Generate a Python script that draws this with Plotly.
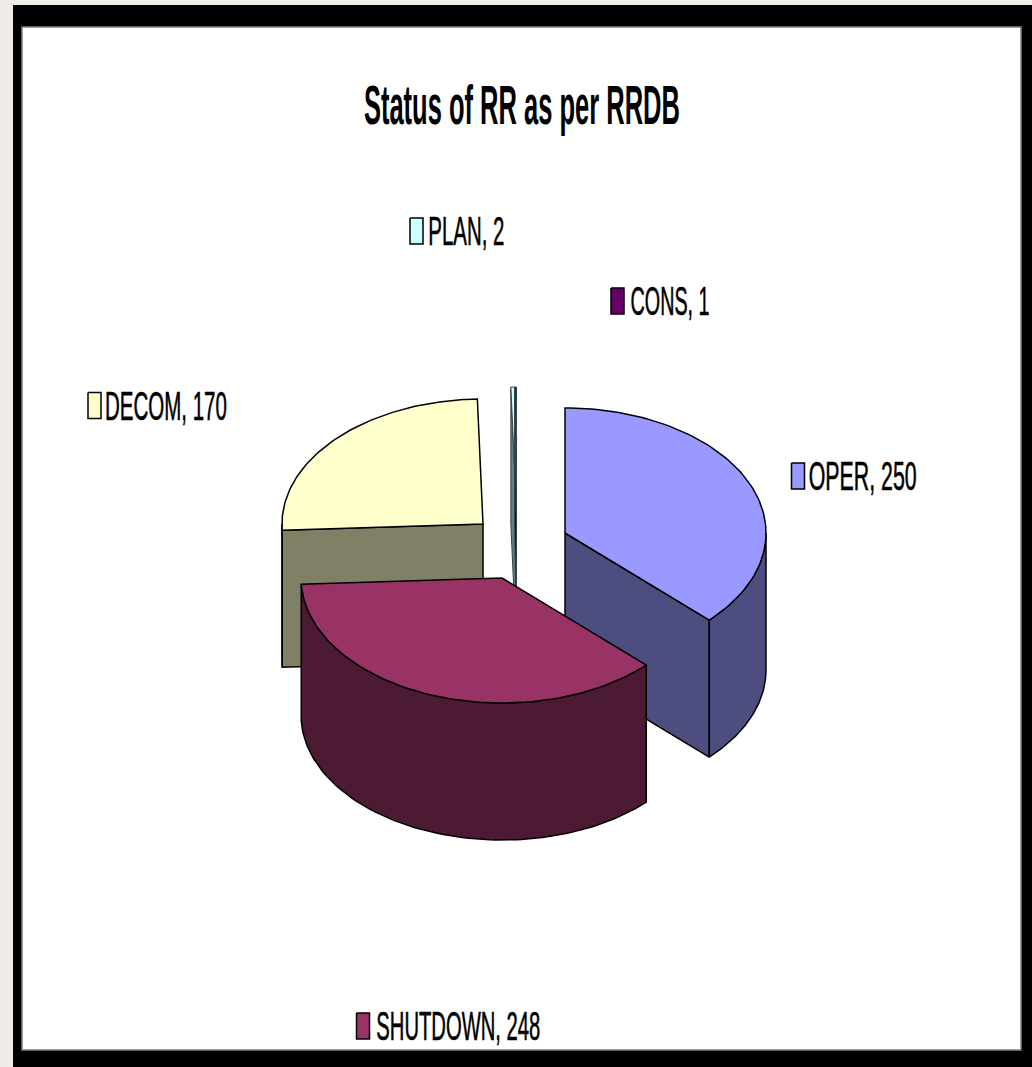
import json
import numpy as np
import plotly.graph_objects as go

# ---- data (clockwise from 12 o'clock) ----
categories = ["OPER", "SHUTDOWN", "DECOM", "PLAN", "CONS"]
values = [250, 248, 170, 2, 1]
chart_title = "Status of RR as per RRDB"

# ---- styles and layout ----
top_colors = ["#9999FF", "#993366", "#FFFFCC", "#CCFFFF", "#660066"]
side_colors = ["#4D4D80", "#4D1A33", "#808066", "#668080", "#330033"]
apexes = {"OPER": (565, 533), "SHUTDOWN": (502, 578), "DECOM": (483, 524),
          "PLAN": (516.5, 512), "CONS": (516.5, 512)}
# key centre (x, y) and the horizontal span of the squeezed label text
key_centres = {"OPER": (798, 476), "SHUTDOWN": (363, 1026), "DECOM": (94.5, 405.5),
               "PLAN": (416.5, 231), "CONS": (617.5, 301)}
text_spans = {"OPER": (808, 916), "SHUTDOWN": (376, 540), "DECOM": (105, 227),
              "PLAN": (428, 504), "CONS": (630, 709)}
title_span = (364, 680)
RX, RY, DEPTH = 201, 125, 137
W, H = 1032, 1067
FONT = "Liberation Sans, Arial, sans-serif"

fig = go.Figure()


def poly(xs, ys, fill, lw=1.5, lc="#000000"):
    fig.add_trace(go.Scatter(
        x=list(xs), y=list(ys), mode="lines", fill="toself", fillcolor=fill,
        line=dict(color=lc, width=lw), hoverinfo="skip", showlegend=False))


def pt(c, deg, dy=0):
    r = np.radians(deg)
    return c[0] + RX * np.sin(r), c[1] - RY * np.cos(r) + dy


fractions = np.array(values, dtype=float) / sum(values) * 360
ends = np.cumsum(fractions)
starts = ends - fractions
wedges = {n: (s, e, i) for i, (n, s, e) in enumerate(zip(categories, starts, ends))}


def draw(name):
    s, e, i = wedges[name]
    c = apexes[name]
    t = np.linspace(s, e, 90)
    ax, ay = pt(c, t)
    top, side = top_colors[i], side_colors[i]
    sliver = (e - s) < 3
    lw = 1.0 if sliver else 1.5
    lc = "#334444" if sliver else "#000000"
    # radial face at the start angle (visible for wedges on the left half)
    if 180 < s < 360:
        x0, y0 = pt(c, s)
        poly([x0, c[0], c[0], x0, x0], [y0, c[1], c[1] + DEPTH, y0 + DEPTH, y0], side, lw, lc)
    # radial face at the end angle (visible for wedges on the right half)
    if 0 < e < 180:
        x1, y1 = pt(c, e)
        poly([c[0], x1, x1, c[0], c[0]], [c[1], y1, y1 + DEPTH, c[1] + DEPTH, c[1]], side, lw, lc)
    # outer rim, only where it faces the viewer (90..270 degrees)
    lo, hi = max(s, 90), min(e, 270)
    if hi > lo:
        tr = np.linspace(lo, hi, 90)
        rx, ry = pt(c, tr)
        poly(np.r_[rx, rx[::-1], rx[0]], np.r_[ry, ry[::-1] + DEPTH, ry[0]], side, lw, lc)
    # top surface
    poly(np.r_[c[0], ax, c[0]], np.r_[c[1], ay, c[1]], top, lw, lc)


for name in ["DECOM", "PLAN", "CONS", "OPER", "SHUTDOWN"]:
    draw(name)

# data labels with their colour keys
squeeze = {}
for i, name in enumerate(categories):
    kx, ky = key_centres[name]
    poly([kx - 6.5, kx + 6.5, kx + 6.5, kx - 6.5, kx - 6.5],
         [ky - 13, ky - 13, ky + 13, ky + 13, ky - 13], top_colors[i], 1.5)
    a, b = text_spans[name]
    label = f"{name}, {values[i]}"
    squeeze[label] = b - a
    fig.add_annotation(x=(a + b) / 2, y=ky, text=label, showarrow=False,
                       xanchor="center", yanchor="middle",
                       font=dict(family=FONT, size=41, color="#000000"))

squeeze[chart_title] = title_span[1] - title_span[0]
fig.add_annotation(x=sum(title_span) / 2, y=104, text=chart_title, showarrow=False,
                   xanchor="center", yanchor="middle",
                   font=dict(family=FONT, size=56, color="#000000", weight="bold"))

fig.update_layout(
    width=W, height=H, margin=dict(l=0, r=0, t=0, b=0),
    paper_bgcolor="#EFEBE7", plot_bgcolor="#EFEBE7", showlegend=False,
    xaxis=dict(range=[0, W], visible=False, fixedrange=True),
    yaxis=dict(range=[H, 0], visible=False, fixedrange=True),
    shapes=[
        dict(type="rect", layer="below", x0=13, y0=5, x1=W, y1=H,
             fillcolor="#000000", line_width=0),
        dict(type="rect", layer="below", x0=22, y0=27, x1=1021, y1=1050,
             fillcolor="#FFFFFF", line=dict(color="#808080", width=1.5)),
    ],
)

# The original text is horizontally squeezed: fit each real text element to its width.
post = """
document.body.style.margin='0';document.body.style.overflow='hidden';
var widths = %s;
document.querySelectorAll('text.annotation-text').forEach(function(t){
  var w = widths[t.textContent];
  if (w) {
    t.setAttribute('textLength', w); t.setAttribute('lengthAdjust', 'spacingAndGlyphs');
    if (w < 300) { t.style.stroke = '#000000'; t.style.strokeWidth = '0.6px'; }
  }
});
""" % json.dumps(squeeze)

fig.write_html("out.html", config={"displayModeBar": False}, post_script=post)
